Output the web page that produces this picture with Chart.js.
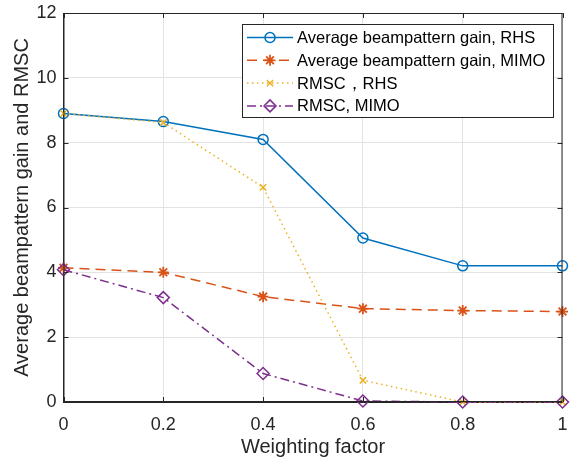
<!DOCTYPE html>
<html>
<head>
<meta charset="utf-8">
<script src="https://cdn.jsdelivr.net/npm/chart.js@4/dist/chart.umd.min.js"></script>
<style>
html,body{margin:0;padding:0;background:#fff;}
#c{display:block;}
</style>
</head>
<body>
<canvas id="c" width="570" height="461"></canvas>
<script>
const weights = [0, 0.2, 0.4, 0.6, 0.8, 1];
const gainRHS = [8.9, 8.65, 8.1, 5.06, 4.2, 4.2];
const gainMIMO = [4.14, 4.0, 3.25, 2.88, 2.82, 2.79];
const rmscRHS = [8.9, 8.62, 6.62, 0.67, 0.0, 0.0];
const rmscMIMO = [4.08, 3.22, 0.88, 0.03, 0.0, 0.0];
const seriesNames = ['Average beampattern gain, RHS', 'Average beampattern gain, MIMO', 'RMSC，RHS', 'RMSC, MIMO'];
const xTicks = [0, 0.2, 0.4, 0.6, 0.8, 1];
const yTicks = [0, 2, 4, 6, 8, 10, 12];

const FONT = '"Liberation Sans", Arial, Helvetica, sans-serif';
const colors = ['#0072BD', '#D95319', '#EDB120', '#7E2F8E'];

function mk(i, data, dash, style, radius, bw) {
  return {
    label: seriesNames[i],
    data: weights.map((w, k) => ({x: w, y: data[k]})),
    borderColor: colors[i],
    backgroundColor: colors[i],
    borderWidth: 1.5,
    borderDash: dash,
    pointStyle: style,
    pointRadius: radius,
    pointHoverRadius: radius,
    pointBorderColor: colors[i],
    pointBackgroundColor: 'rgba(0,0,0,0)',
    pointBorderWidth: bw,
    tension: 0,
    order: 4 - i,
    clip: false
  };
}

function drawMarker(ctx, style, x, y, r, color, bw) {
  ctx.save();
  ctx.strokeStyle = color;
  ctx.lineWidth = bw;
  ctx.setLineDash([]);
  ctx.beginPath();
  if (style === 'circle') {
    ctx.arc(x, y, r, 0, Math.PI * 2);
  } else if (style === 'star') {
    for (let a = 0; a < 4; a++) {
      const ang = a * Math.PI / 4;
      ctx.moveTo(x - Math.cos(ang) * r, y - Math.sin(ang) * r);
      ctx.lineTo(x + Math.cos(ang) * r, y + Math.sin(ang) * r);
    }
  } else if (style === 'crossRot') {
    const d = r * 0.707;
    ctx.moveTo(x - d, y - d); ctx.lineTo(x + d, y + d);
    ctx.moveTo(x - d, y + d); ctx.lineTo(x + d, y - d);
  } else if (style === 'rectRot') {
    ctx.moveTo(x, y - r); ctx.lineTo(x + r, y); ctx.lineTo(x, y + r); ctx.lineTo(x - r, y); ctx.closePath();
  }
  ctx.stroke();
  ctx.restore();
}

const framePlugin = {
  id: 'frame',
  afterDraw(chart) {
    const ctx = chart.ctx;
    const a = chart.chartArea;
    const xs = chart.scales.x, ys = chart.scales.y;
    ctx.save();
    ctx.strokeStyle = '#262626';
    ctx.lineWidth = 1;
    ctx.setLineDash([]);
    ctx.strokeRect(a.left + 0.5, a.top + 0.5, a.right - a.left - 1, a.bottom - a.top - 1);
    // inward ticks
    ctx.beginPath();
    xTicks.forEach(v => {
      const px = Math.round(xs.getPixelForValue(v)) + 0.5;
      ctx.moveTo(px, a.bottom); ctx.lineTo(px, a.bottom - 5);
      ctx.moveTo(px, a.top); ctx.lineTo(px, a.top + 5);
    });
    yTicks.forEach(v => {
      const py = Math.round(ys.getPixelForValue(v)) + 0.5;
      ctx.moveTo(a.left, py); ctx.lineTo(a.left + 5, py);
      ctx.moveTo(a.right, py); ctx.lineTo(a.right - 5, py);
    });
    ctx.stroke();

    // legend
    const lx = 242, ly = 24, lw = 311, lh = 93;
    ctx.fillStyle = '#fff';
    ctx.fillRect(lx, ly, lw, lh);
    ctx.strokeStyle = '#262626';
    ctx.strokeRect(lx + 0.5, ly + 0.5, lw, lh);
    ctx.font = '16.5px ' + FONT;
    ctx.textBaseline = 'middle';
    ctx.textAlign = 'left';
    chart.data.datasets.forEach((ds, i) => {
      const y = 37.5 + i * 22.8;
      ctx.save();
      ctx.strokeStyle = ds.borderColor;
      ctx.lineWidth = ds.borderWidth;
      ctx.setLineDash(ds.borderDash || []);
      ctx.beginPath();
      ctx.moveTo(247, y); ctx.lineTo(293, y);
      ctx.stroke();
      ctx.restore();
      drawMarker(ctx, ds.pointStyle, 270, y, ds.pointRadius, ds.pointBorderColor, ds.pointBorderWidth);
      ctx.fillStyle = '#000';
      ctx.fillText(ds.label, 297, y + 1);
    });
    ctx.restore();
  }
};

new Chart(document.getElementById('c'), {
  type: 'line',
  data: {
    datasets: [
      mk(0, gainRHS, [], 'circle', 5, 1.5),
      mk(1, gainMIMO, [10, 6], 'star', 5.5, 1.8),
      mk(2, rmscRHS, [1.5, 3.5], 'crossRot', 4.5, 1.5),
      mk(3, rmscMIMO, [9, 4, 2, 4], 'rectRot', 6, 1.5)
    ]
  },
  options: {
    responsive: false,
    animation: false,
    devicePixelRatio: 1,
    layout: {padding: {top: 13, right: 5, left: 0, bottom: 0}},
    plugins: {legend: {display: false}, tooltip: {enabled: false}},
    scales: {
      x: {
        type: 'linear',
        min: 0, max: 1,
        afterBuildTicks(s) { s.ticks = xTicks.map(v => ({value: v})); },
        afterFit(s) { s.height = 59; s.paddingLeft = 0; s.paddingRight = 0; },
        ticks: {
          color: '#262626',
          font: {family: FONT, size: 18},
          padding: 12,
          maxRotation: 0,
          callback: v => String(v)
        },
        grid: {color: '#e3e3e3', drawTicks: false, lineWidth: 1},
        border: {color: '#262626', width: 1},
        title: {display: true, text: 'Weighting factor', color: '#262626', font: {family: FONT, size: 20}, padding: {top: 2, bottom: 2}}
      },
      y: {
        type: 'linear',
        min: 0, max: 12,
        afterBuildTicks(s) { s.ticks = yTicks.map(v => ({value: v})); },
        afterFit(s) { s.width = 63.5; s.paddingTop = 0; s.paddingBottom = 0; },
        ticks: {
          color: '#262626',
          font: {family: FONT, size: 18},
          padding: 7
        },
        grid: {color: '#e3e3e3', drawTicks: false, lineWidth: 1},
        border: {color: '#262626', width: 1},
        title: {display: true, text: 'Average beampattern gain and RMSC', color: '#262626', font: {family: FONT, size: 20}, padding: {top: 10, bottom: 4}}
      }
    }
  },
  plugins: [framePlugin]
});
</script>
</body>
</html>
